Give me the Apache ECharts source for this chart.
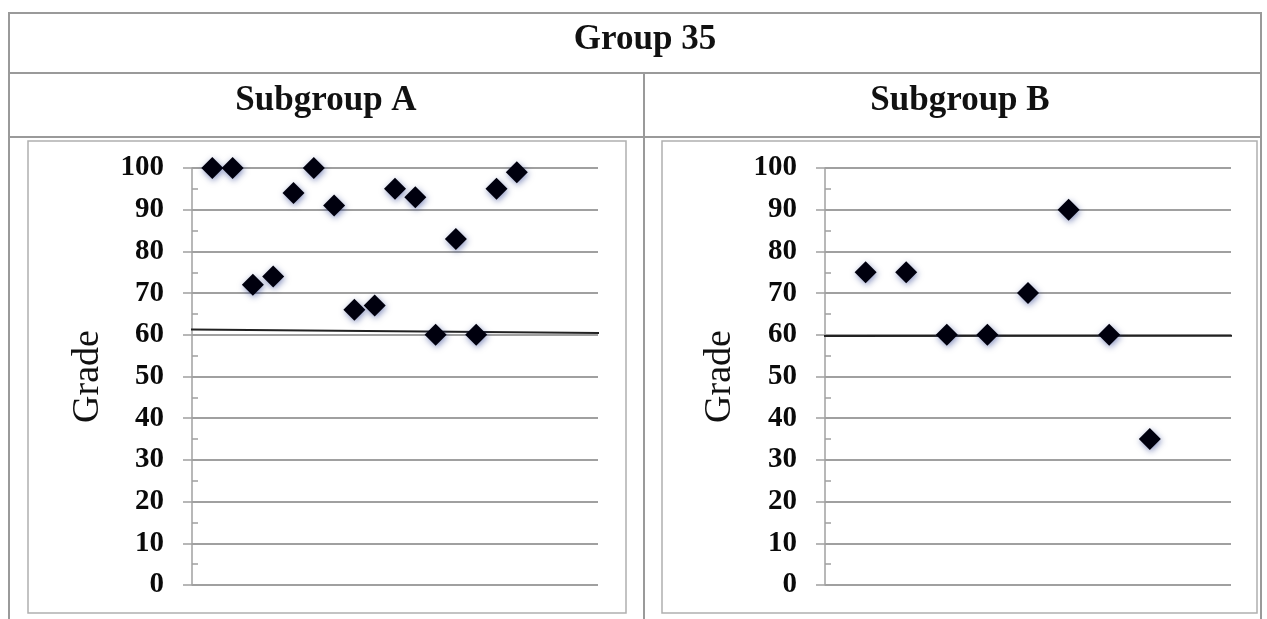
<!DOCTYPE html>
<html>
<head>
<meta charset="utf-8">
<script src="https://cdn.jsdelivr.net/npm/echarts@6/dist/echarts.min.js"></script>
<style>html,body{margin:0;padding:0;background:#fff;}#c{width:1267px;height:619px;}</style>
</head>
<body>
<div id="c"></div>
<script>
// ---- data ----
var mainTitle = 'Group 35';
var subTitles = ['Subgroup A', 'Subgroup B'];
var axisName = 'Grade';
var gradesA = [100, 100, 72, 74, 94, 100, 91, 66, 67, 95, 93, 60, 83, 60, 95, 99];
var gradesB = [75, 75, 60, 60, 70, 90, 60, 35];
var xMaxA = 20;
var xMaxB = 10;
var trendA = [[-0.35, 61.3], [20.2, 60.4]];
var trendB = [[-0.17, 59.7], [10.3, 59.8]];

function toPoints(arr) { return arr.map(function (v, i) { return [i + 1, v]; }); }

var serif = 'Liberation Serif, Times New Roman, serif';
var gridColor = '#a0a0a0';
var borderColor = '#9a9a9a';

function yAxes(gridIndex) {
  return [{
    type: 'value', gridIndex: gridIndex, min: 0, max: 100, interval: 10,
    name: axisName, nameLocation: 'middle', nameGap: gridIndex === 0 ? 85 : 86, nameRotate: 90,
    nameTextStyle: { fontFamily: serif, fontSize: 38, color: '#111' },
    axisLine: { show: true, lineStyle: { color: gridColor, width: 1.5 } },
    axisTick: { show: true, inside: false, length: 9, lineStyle: { color: gridColor, width: 1.5 } },
    axisLabel: { margin: 28, fontFamily: serif, fontWeight: 'bold', fontSize: 29, color: '#0a0a0a' },
    splitLine: { show: true, lineStyle: { color: gridColor, width: 1.8 } }
  }, {
    type: 'value', gridIndex: gridIndex, min: 0, max: 100, interval: 5, position: 'left',
    axisLine: { show: false },
    axisTick: { show: true, inside: true, length: 6, lineStyle: { color: gridColor, width: 1.5 } },
    axisLabel: { show: false },
    splitLine: { show: false }
  }];
}

var markerStyle = {
  color: '#00000e', opacity: 1,
  shadowBlur: 6, shadowColor: 'rgba(20,40,130,0.5)', shadowOffsetX: 1, shadowOffsetY: 2
};

var option = {
  backgroundColor: '#ffffff',
  animation: false,
  grid: [
    { left: 192, right: 669, top: 168, bottom: 34 },
    { left: 825, right: 36, top: 168, bottom: 34 }
  ],
  xAxis: [
    { type: 'value', gridIndex: 0, min: 0, max: xMaxA, show: false },
    { type: 'value', gridIndex: 1, min: 0, max: xMaxB, show: false }
  ],
  yAxis: yAxes(0).concat(yAxes(1)),
  series: [
    { type: 'line', xAxisIndex: 0, yAxisIndex: 0, data: trendA, symbol: 'none', clip: false,
      lineStyle: { color: '#222', width: 2 }, z: 3 },
    { type: 'scatter', xAxisIndex: 0, yAxisIndex: 0, data: toPoints(gradesA), symbol: 'diamond',
      symbolSize: 22, itemStyle: markerStyle, z: 4 },
    { type: 'line', xAxisIndex: 1, yAxisIndex: 2, data: trendB, symbol: 'none', clip: false,
      lineStyle: { color: '#222', width: 2 }, z: 3 },
    { type: 'scatter', xAxisIndex: 1, yAxisIndex: 2, data: toPoints(gradesB), symbol: 'diamond',
      symbolSize: 22, itemStyle: markerStyle, z: 4 }
  ],
  graphic: [
    // table lines
    { type: 'polyline', silent: true, shape: { points: [[9, 625], [9, 13], [1261, 13], [1261, 625]] },
      style: { stroke: borderColor, lineWidth: 2, fill: null } },
    { type: 'line', silent: true, shape: { x1: 9, y1: 73, x2: 1261, y2: 73 }, style: { stroke: borderColor, lineWidth: 2 } },
    { type: 'line', silent: true, shape: { x1: 9, y1: 137, x2: 1261, y2: 137 }, style: { stroke: borderColor, lineWidth: 2 } },
    { type: 'line', silent: true, shape: { x1: 644, y1: 73, x2: 644, y2: 625 }, style: { stroke: borderColor, lineWidth: 2 } },
    // chart boxes
    { type: 'rect', silent: true, shape: { x: 28, y: 141, width: 598, height: 472 },
      style: { stroke: '#b0b0b0', lineWidth: 1.5, fill: null } },
    { type: 'rect', silent: true, shape: { x: 662, y: 141, width: 595, height: 472 },
      style: { stroke: '#b0b0b0', lineWidth: 1.5, fill: null } },
    // texts
    { type: 'text', silent: true, style: { x: 645, y: 40, text: mainTitle, align: 'center', verticalAlign: 'middle',
      font: 'bold 35px ' + serif, fill: '#111' } },
    { type: 'text', silent: true, style: { x: 326, y: 101, text: subTitles[0], align: 'center', verticalAlign: 'middle',
      font: 'bold 35px ' + serif, fill: '#111' } },
    { type: 'text', silent: true, style: { x: 960, y: 101, text: subTitles[1], align: 'center', verticalAlign: 'middle',
      font: 'bold 35px ' + serif, fill: '#111' } }
  ]
};

var chart = echarts.init(document.getElementById('c'));
chart.setOption(option);
</script>
</body>
</html>
